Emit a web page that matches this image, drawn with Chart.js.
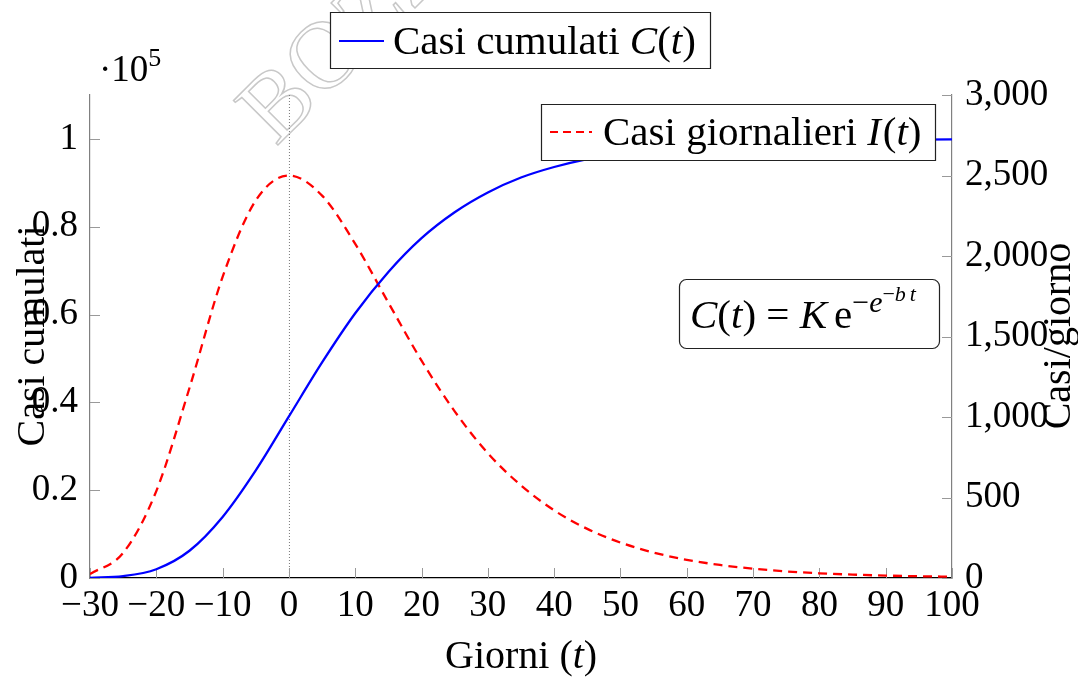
<!DOCTYPE html>
<html>
<head>
<meta charset="utf-8">
<script src="https://cdn.jsdelivr.net/npm/chart.js@4.4.1/dist/chart.umd.min.js"></script>
<style>
    body { margin: 0; background: #fff; }
    #wrap { width: 1078px; height: 677px; position: relative; }
</style>
</head>
<body>
<div id="wrap"><canvas id="grafico"></canvas></div>
<script>
const giorni = [-30, -25, -20, -15, -10, -5, 0, 5, 10, 15, 20, 25, 30, 35, 40, 45, 50, 55, 60, 65, 70, 75, 80, 85, 90, 95, 100];
const casiCumulati = [50, 420, 2000, 6200, 13900, 24500, 36800, 49100, 60300, 69700, 77400, 83300, 87800, 91200, 93600, 95400, 96700, 97600, 98300, 98800, 99100, 99400, 99600, 99700, 99800, 99850, 99900];
const casiGiornalieri = [24, 156, 540, 1180, 1870, 2345, 2500, 2375, 2075, 1710, 1350, 1035, 775, 575, 420, 305, 220, 158, 113, 81, 58, 41, 29, 21, 15, 11, 8];

const tickGiorni = [-30, -20, -10, 0, 10, 20, 30, 40, 50, 60, 70, 80, 90, 100];
const tickCumulati = [0, 20000, 40000, 60000, 80000, 100000];
const tickGiorno = [0, 500, 1000, 1500, 2000, 2500, 3000];

const FONT = '"Liberation Serif", "Times New Roman", serif';

function scriviPezzi(ctx, pezzi, x, y) {
    for (const p of pezzi) {
        ctx.font = (p.it ? 'italic ' : '') + p.size + 'px ' + FONT;
        ctx.fillText(p.t, x, y - (p.up || 0));
        x += ctx.measureText(p.t).width + (p.gap || 0);
    }
    return x;
}

function scatola(ctx, x1, y1, x2, y2, r) {
    ctx.beginPath();
    if (r) ctx.roundRect(x1, y1, x2 - x1, y2 - y1, r);
    else ctx.rect(x1, y1, x2 - x1, y2 - y1);
    ctx.fillStyle = '#fff';
    ctx.fill();
    ctx.strokeStyle = '#222';
    ctx.lineWidth = 1.2;
    ctx.stroke();
}

const decorazioni = {
    id: 'decorazioni',
    beforeDraw(chart) {
        const ctx = chart.ctx;
        // filigrana
        ctx.save();
        ctx.translate(276, 147);
        ctx.rotate(-Math.PI / 4);
        ctx.font = '96px ' + FONT;
        ctx.strokeStyle = '#c8c8c8';
        ctx.lineWidth = 1.5;
        ctx.strokeText('BOZZA', 0, 0);
        ctx.restore();
    },
    beforeDatasetsDraw(chart) {
        const ctx = chart.ctx;
        const a = chart.chartArea;
        const sx = chart.scales.x, sy = chart.scales.y, sy1 = chart.scales.y1;
        ctx.save();
        // linea tratteggiata a t = 0
        const x0 = sx.getPixelForValue(0);
        ctx.strokeStyle = '#777';
        ctx.lineWidth = 1;
        ctx.setLineDash([1, 2]);
        ctx.beginPath();
        ctx.moveTo(x0 + 0.5, a.top);
        ctx.lineTo(x0 + 0.5, a.bottom);
        ctx.stroke();
        ctx.setLineDash([]);
        // tacche interne
        ctx.strokeStyle = '#999';
        ctx.beginPath();
        sx.ticks.forEach(t => {
            const x = Math.round(sx.getPixelForValue(t.value)) + 0.5;
            ctx.moveTo(x, a.bottom);
            ctx.lineTo(x, a.bottom - 10);
        });
        sy.ticks.forEach(t => {
            const y = Math.round(sy.getPixelForValue(t.value)) + 0.5;
            ctx.moveTo(a.left, y);
            ctx.lineTo(a.left + 10, y);
        });
        sy1.ticks.forEach(t => {
            const y = Math.round(sy1.getPixelForValue(t.value)) + 0.5;
            ctx.moveTo(a.right, y);
            ctx.lineTo(a.right - 10, y);
        });
        ctx.stroke();
        ctx.restore();
    },
    afterDraw(chart) {
        const ctx = chart.ctx;
        ctx.save();
        ctx.fillStyle = '#000';
        ctx.textBaseline = 'alphabetic';
        ctx.textAlign = 'left';

        // legenda 1
        scatola(ctx, 330.5, 12.5, 710.5, 68.5);
        ctx.strokeStyle = '#0000ff';
        ctx.lineWidth = 2.2;
        ctx.beginPath();
        ctx.moveTo(339, 41);
        ctx.lineTo(384, 41);
        ctx.stroke();
        ctx.fillStyle = '#000';
        scriviPezzi(ctx, [
            { t: 'Casi cumulati ', size: 41 },
            { t: 'C', size: 41, it: true },
            { t: '(', size: 41 },
            { t: 't', size: 41, it: true },
            { t: ')', size: 41 }
        ], 393, 54);

        // legenda 2
        scatola(ctx, 541.5, 104.5, 935.5, 160.5);
        ctx.strokeStyle = '#ff0000';
        ctx.lineWidth = 2.2;
        ctx.setLineDash([8, 5]);
        ctx.beginPath();
        ctx.moveTo(550, 132);
        ctx.lineTo(592, 132);
        ctx.stroke();
        ctx.setLineDash([]);
        ctx.fillStyle = '#000';
        scriviPezzi(ctx, [
            { t: 'Casi giornalieri ', size: 41 },
            { t: 'I', size: 41, it: true, gap: 2 },
            { t: '(', size: 41 },
            { t: 't', size: 41, it: true },
            { t: ')', size: 41 }
        ], 603, 145);

        // formula
        scatola(ctx, 679.5, 279.5, 939.5, 348.5, 7);
        ctx.fillStyle = '#000';
        scriviPezzi(ctx, [
            { t: 'C', size: 41, it: true },
            { t: '(', size: 41 },
            { t: 't', size: 41, it: true },
            { t: ') = ', size: 41 },
            { t: 'K', size: 41, it: true, gap: 7 },
            { t: 'e', size: 41 },
            { t: '\u2212', size: 30, up: 16 },
            { t: 'e', size: 30, it: true, up: 16 },
            { t: '\u2212', size: 22, up: 27 },
            { t: 'b', size: 22, it: true, up: 27, gap: 4 },
            { t: 't', size: 22, it: true, up: 27 }
        ], 690, 328);

        // esponente asse sinistro
        scriviPezzi(ctx, [
            { t: '\u00b710', size: 37 },
            { t: '5', size: 26, up: 15 }
        ], 99, 81);

        // titoli assi
        scriviPezzi(ctx, [
            { t: 'Giorni (', size: 40 },
            { t: 't', size: 40, it: true },
            { t: ')', size: 40 }
        ], 445, 668);

        ctx.font = '40px ' + FONT;
        ctx.textAlign = 'center';
        ctx.save();
        ctx.translate(44, 336);
        ctx.rotate(-Math.PI / 2);
        ctx.fillText('Casi cumulati', 0, 0);
        ctx.restore();
        ctx.save();
        ctx.translate(1070, 336);
        ctx.rotate(-Math.PI / 2);
        ctx.fillText('Casi/giorno', 0, 0);
        ctx.restore();

        ctx.restore();
    }
};

const fontTick = { family: FONT, size: 37 };

new Chart(document.getElementById('grafico'), {
    type: 'line',
    data: {
        datasets: [{
            label: 'Casi cumulati',
            data: giorni.map((g, i) => ({ x: g, y: casiCumulati[i] })),
            yAxisID: 'y',
            borderColor: '#0000ff',
            borderWidth: 2.3,
            pointRadius: 0,
            cubicInterpolationMode: 'monotone',
            fill: false
        }, {
            label: 'Casi giornalieri',
            data: giorni.map((g, i) => ({ x: g, y: casiGiornalieri[i] })),
            yAxisID: 'y1',
            borderColor: '#ff0000',
            borderWidth: 2.3,
            borderDash: [9, 6],
            pointRadius: 0,
            cubicInterpolationMode: 'monotone',
            fill: false
        }]
    },
    options: {
        responsive: true,
        maintainAspectRatio: false,
        animation: false,
        layout: { padding: { top: 95, left: 0, right: 0, bottom: 0 } },
        plugins: { legend: { display: false }, tooltip: { enabled: false } },
        scales: {
            x: {
                type: 'linear',
                min: -30,
                max: 100,
                afterBuildTicks: s => { s.ticks = tickGiorni.map(v => ({ value: v })); },
                afterFit: s => { s.height = 99; },
                grid: { drawOnChartArea: false, drawTicks: false },
                border: { color: '#000', width: 1.3 },
                ticks: {
                    font: fontTick, color: '#000', padding: 6,
                    maxRotation: 0, autoSkip: false,
                    callback: v => v < 0 ? '\u2212' + (-v) : String(v)
                }
            },
            y: {
                position: 'left',
                min: 0,
                max: 110000,
                afterBuildTicks: s => { s.ticks = tickCumulati.map(v => ({ value: v })); },
                afterFit: s => { s.width = 90; },
                grid: { drawOnChartArea: false, drawTicks: false },
                border: { color: '#808080', width: 1.2 },
                ticks: {
                    font: fontTick, color: '#000', padding: 12,
                    callback: v => String(v / 100000)
                }
            },
            y1: {
                position: 'right',
                min: 0,
                max: 3000,
                afterBuildTicks: s => { s.ticks = tickGiorno.map(v => ({ value: v })); },
                afterFit: s => { s.width = 126; },
                grid: { drawOnChartArea: false, drawTicks: false },
                border: { color: '#808080', width: 1.2 },
                ticks: {
                    font: fontTick, color: '#000', padding: 13,
                    callback: v => v.toLocaleString('en-US')
                }
            }
        }
    },
    plugins: [decorazioni]
});
</script>
</body>
</html>
